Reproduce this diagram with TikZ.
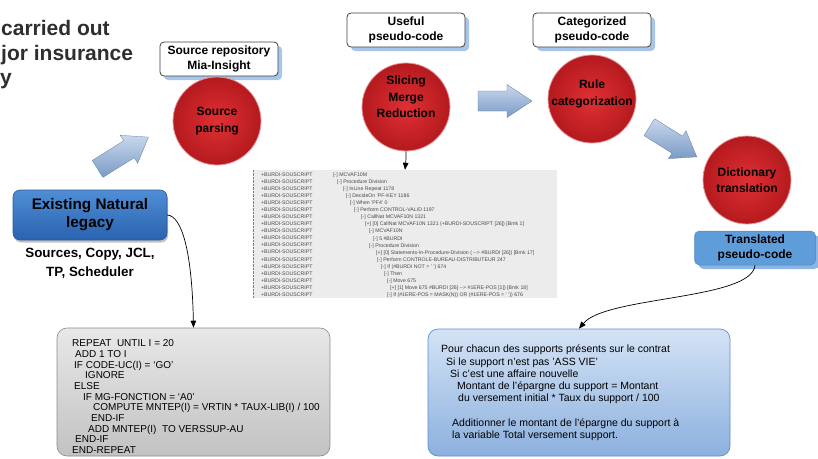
\documentclass[tikz,border=0pt]{standalone}
\usepackage{fontspec}
\setmainfont{Liberation Sans}
\usetikzlibrary{shadows,arrows.meta}

\definecolor{txtdark}{HTML}{2E2E2E}
\definecolor{circin}{HTML}{E03034}
\definecolor{circout}{HTML}{B41A1E}
\definecolor{circrim}{HTML}{E8969A}
\definecolor{shadblue}{HTML}{A8C6EA}
\definecolor{legtop}{HTML}{4F8FD6}
\definecolor{legbot}{HTML}{2A62AE}
\definecolor{legdraw}{HTML}{2C5A96}
\definecolor{trfill}{HTML}{5E9DDA}
\definecolor{trshad}{HTML}{8DB6E4}
\definecolor{arrtop}{HTML}{C8D8EC}
\definecolor{arrbot}{HTML}{7A9BC6}
\definecolor{codetop}{HTML}{E8E8E8}
\definecolor{codebot}{HTML}{C2C2C2}
\definecolor{codedraw}{HTML}{8A8A8A}
\definecolor{frtop}{HTML}{D4E3F5}
\definecolor{frbot}{HTML}{8CB0DE}
\definecolor{frdraw}{HTML}{5A8ED0}
\definecolor{imgbg}{HTML}{ECECEC}
\definecolor{imgtxt}{HTML}{4A4A4A}

\begin{document}
\begin{tikzpicture}[x=1pt,y=-1pt,
  proc/.style={circle, minimum size=88pt, inner sep=0pt, inner color=circin, outer color=circout,
    draw=circrim, line width=0.8pt, align=center, text=black,
    font=\fontsize{12}{16.5}\selectfont\bfseries},
  proctext/.style={align=center, text=black, inner sep=0pt, font=\fontsize{12}{16.5}\selectfont\bfseries},
  tag/.style={draw=black!75, fill=white, rounded corners=4pt, minimum width=118pt, minimum height=34pt,
    inner sep=0pt, align=center, line width=0.8pt, font=\fontsize{12}{15}\selectfont\bfseries,
    drop shadow={shadow xshift=4pt, shadow yshift=-4pt, fill=shadblue, opacity=1}},
  fat/.style={top color=arrtop, bottom color=arrbot, draw=arrbot!80!black, line width=0.3pt},
  conn/.style={black, line width=0.7pt, -{Triangle[length=7pt,width=5.5pt]}},
  headline/.style={anchor=base west, inner sep=0pt, text=txtdark, font=\fontsize{21}{25}\selectfont\bfseries}
]
\useasboundingbox (0,0) rectangle (818,458);

% top-left cropped title
\node[headline] (h1) at (1,35) {carried out};
\node[headline] (h2) at (1,60) {jor insurance};
\node[headline] (h3) at (0,84) {y};

% label boxes
\node[tag] (lab1) at (219,59) {Source repository\\Mia-Insight};
\node[tag] (lab2) at (406,30) {Useful\\pseudo-code};
\node[tag] (lab3) at (592,30) {Categorized\\pseudo-code};

% process circles
\node[proc] (sp) at (217,121) {Source\\parsing};
\node[proc] (smr) at (406,107) {};
\node[proctext] (smrt) at (406,97) {Slicing\\Merge\\Reduction};
\node[proc] (rc) at (592,99) {};
\node[proctext] (rct) at (592,94) {Rule\\categorization};
\node[proc] (dt) at (747,180) {Dictionary\\translation};

% fat arrows (drawn shapes)
\begin{scope}[shift={(123,153)}, rotate=32]
  \path[fat] (-30,-10) -- (7,-10) -- (7,-16.5) -- (30,0) -- (7,16.5) -- (7,10) -- (-30,10) -- cycle;
\end{scope}
\begin{scope}[shift={(505,101)}]
  \path[fat] (-27,-10) -- (2,-10) -- (2,-16.5) -- (27,0) -- (2,16.5) -- (2,10) -- (-27,10) -- cycle;
\end{scope}
\begin{scope}[shift={(673,142)}, rotate=-32]
  \path[fat] (-28,-10) -- (5,-10) -- (5,-16.5) -- (28,0) -- (5,16.5) -- (5,10) -- (-28,10) -- cycle;
\end{scope}

% translated pseudo-code
\node[rounded corners=5pt, fill=trshad, minimum width=121pt, minimum height=34pt] (trs) at (759,252) {};
\node[rounded corners=5pt, fill=trfill, draw=trfill!85!black, line width=0.5pt, minimum width=121pt,
  minimum height=34pt, inner sep=0pt, align=center, font=\fontsize{12}{15}\selectfont\bfseries] (tr) at (755,248) {Translated\\pseudo-code};

% existing natural legacy
\node[rounded corners=7pt, top color=legtop, bottom color=legbot, draw=legdraw, line width=0.6pt,
  minimum width=154pt, minimum height=50pt, inner sep=0pt, align=center,
  font=\fontsize{15.3}{18}\selectfont\bfseries,
  drop shadow={shadow xshift=1pt, shadow yshift=-2.5pt, fill=black!40, opacity=0.6}] (legacy) at (90,215) {Existing Natural\\legacy};
\node[align=center, inner sep=0pt, font=\fontsize{13.4}{19}\selectfont\bfseries] (legcap) at (90,263) {Sources, Copy, JCL,\\TP, Scheduler};

% screenshot of the tree
\node[fill=imgbg, minimum width=304pt, minimum height=128pt, inner sep=0pt] (img) at (405,234) {};
\draw[densely dotted, gray] (img.north west) -- (img.south west);
\node[anchor=north west, inner sep=0pt, align=left, text=imgtxt, font=\fontsize{5.2}{7.06}\selectfont] (imgl) at (261,172.5)
 {+BURDI-SOUSCRIPT\\+BURDI-SOUSCRIPT\\+BURDI-SOUSCRIPT\\+BURDI-SOUSCRIPT\\+BURDI-SOUSCRIPT\\+BURDI-SOUSCRIPT\\+BURDI-SOUSCRIPT\\+BURDI-SOUSCRIPT\\+BURDI-SOUSCRIPT\\+BURDI-SOUSCRIPT\\+BURDI-SOUSCRIPT\\+BURDI-SOUSCRIPT\\+BURDI-SOUSCRIPT\\+BURDI-SOUSCRIPT\\+BURDI-SOUSCRIPT\\+BURDI-SOUSCRIPT\\+BURDI-SOUSCRIPT\\+BURDI-SOUSCRIPT};
\node[anchor=north west, inner sep=0pt, align=left, text=imgtxt, font=\fontsize{5.2}{7.06}\selectfont] (imgr) at (333,172.5)
 {[-] MCVAF10M\\
  \hspace*{4pt}[-] Procedure Division\\
  \hspace*{10pt}[-] InLine Repeat 1178\\
  \hspace*{13pt}[-] DecideOn 'PF-KEY 1186\\
  \hspace*{17pt}[-] When 'PF4' 0\\
  \hspace*{21pt}[-] Perform CONTROL-VALID 1197\\
  \hspace*{28pt}[-] CallNat MCVAF10N 1321\\
  \hspace*{32pt}[+] [0] CallNat MCVAF10N 1321 (+BURDI-SOUSCRIPT [26]) [Bmk 1]\\
  \hspace*{36pt}[-] MCVAF10N\\
  \hspace*{40pt}[-] 5 \#BURDI\\
  \hspace*{36pt}[-] Procedure Division\\
  \hspace*{43pt}[+] [0] Statements-In-Procedure-Division ( -{}-> \#BURDI [26]) [Bmk 17]\\
  \hspace*{44pt}[-] Perform CONTROLE-BUREAU-DISTRIBUTEUR 247\\
  \hspace*{48pt}[-] If (\#BURDI NOT = ' ') 674\\
  \hspace*{51pt}[-] Then\\
  \hspace*{54pt}[-] Move 675\\
  \hspace*{57pt}[+] [1] Move 675 \#BURDI [26] -{}-> \#1ERE-POS [1]) [Bmk 18]\\
  \hspace*{54pt}[-] If (\#1ERE-POS = MASK(N)) OR (\#1ERE-POS = ' ')) 676};

% code box
\node[rounded corners=10pt, top color=codetop, bottom color=codebot, draw=codedraw, line width=0.6pt,
  minimum width=273pt, minimum height=128pt, inner sep=0pt] (code) at (193.5,392) {};
\node[anchor=north west, inner sep=0pt, align=left, font=\fontsize{10}{10.67}\selectfont] (codetxt) at (72,339.5)
 {REPEAT\ \ UNTIL I = 20\\
  \hspace*{3pt}ADD 1 TO I\\
  \hspace*{2pt}IF CODE-UC(I) = ‘GO’\\
  \hspace*{13pt}IGNORE\\
  \hspace*{2pt}ELSE\\
  \hspace*{11pt}IF MG-FONCTION = ‘A0’\\
  \hspace*{21pt}COMPUTE MNTEP(I) = VRTIN * TAUX-LIB(I) / 100\\
  \hspace*{19pt}END-IF\\
  \hspace*{16pt}ADD MNTEP(I)\ \ TO VERSSUP-AU\\
  \hspace*{3pt}END-IF\\
  END-REPEAT};

% french box
\node[rounded corners=10pt, top color=frtop, bottom color=frbot, draw=frdraw, line width=0.7pt,
  minimum width=302pt, minimum height=127pt, inner sep=0pt] (fr) at (579,392.5) {};
\node[anchor=north west, inner sep=0pt, align=left, font=\fontsize{10.5}{12.2}\selectfont] (frtxt) at (441,345)
 {Pour chacun des supports présents sur le contrat\\
  \hspace*{5pt}Si le support n'est pas 'ASS VIE'\\
  \hspace*{9pt}Si c'est une affaire nouvelle\\
  \hspace*{16pt}Montant de l'épargne du support = Montant\\
  \hspace*{17pt}du versement initial * Taux du support / 100\\[12.2pt]
  \hspace*{11pt}Additionner le montant de l'épargne du support à\\
  \hspace*{11pt}la variable Total versement support.};

% connectors
\draw[conn] (smr.south) .. controls +(0,8) and +(1,-10) .. (img.north);
\draw[conn] (legacy.east) .. controls (182,216) and (192,252) .. (code.north);
\draw[conn] (tr.south) .. controls (752,300) and (606,296) .. (fr.north);
\end{tikzpicture}
\end{document}
